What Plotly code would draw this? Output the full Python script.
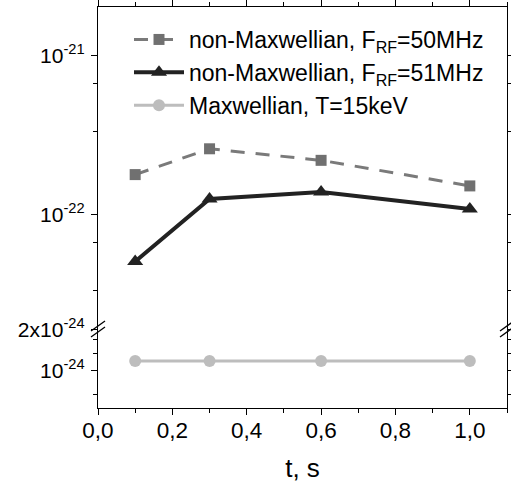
import numpy as np
import plotly.graph_objects as go

# ---- data ----
t = [0.1, 0.3, 0.6, 1.0]
nonmax_50 = [1.79e-22, 2.6e-22, 2.2e-22, 1.52e-22]
nonmax_51 = [5.1e-23, 1.26e-22, 1.39e-22, 1.09e-22]
maxw_15 = [1.17e-24, 1.17e-24, 1.17e-24, 1.17e-24]

x_ticks = [0.0, 0.2, 0.4, 0.6, 0.8, 1.0]
x_ticktext = ["0,0", "0,2", "0,4", "0,6", "0,8", "1,0"]
up_ticks = [1e-22, 1e-21]
up_ticktext = ["10<sup>-22</sup>", "10<sup>-21</sup>"]
up_minor = [3.33e-23, 6.67e-23, 3.33e-22, 6.67e-22]
lo_ticks = [1e-24, 2e-24]
lo_ticktext = ["10<sup>-24</sup>", "2x10<sup>-24</sup>"]
lo_minor = [6.67e-25, 1.33e-24, 1.67e-24]

names = ["non-Maxwellian, F<sub>RF</sub>=50MHz",
         "non-Maxwellian, F<sub>RF</sub>=51MHz",
         "Maxwellian, T=15keV"]

W, H = 511, 485
L, R, T, B = 98, 4, 7, 77
PW, PH = W - L - R, H - T - B
brk_px = 329  # pixel y of the axis break
d = (H - B - brk_px) / PH

FONT = "Liberation Sans, Arial, sans-serif"

fig = go.Figure()
fig.add_trace(go.Scatter(x=t, y=nonmax_50, name=names[0], xaxis="x2", yaxis="y2",
                         mode="lines+markers",
                         line=dict(color="#7a7a7a", width=3, dash="14px,11px"),
                         marker=dict(symbol="square", size=11, color="#707070")))
fig.add_trace(go.Scatter(x=t, y=nonmax_51, name=names[1], xaxis="x2", yaxis="y2",
                         mode="lines+markers",
                         line=dict(color="#222222", width=4),
                         marker=dict(symbol="triangle-up", size=14, color="#222222")))
fig.add_trace(go.Scatter(x=t, y=maxw_15, name=names[2], xaxis="x", yaxis="y",
                         mode="lines+markers",
                         line=dict(color="#bdbdbd", width=3),
                         marker=dict(symbol="circle", size=12, color="#bdbdbd")))

axis_common = dict(showline=True, linecolor="black", linewidth=1.3, showgrid=False,
                   zeroline=False, tickcolor="black", tickwidth=1.3, automargin=False)
yfont = dict(family=FONT, size=21, color="black")
xfont = dict(family=FONT, size=22.5, color="black")

fig.update_layout(
    width=W, height=H,
    margin=dict(l=L, r=R, t=T, b=B, autoexpand=False),
    paper_bgcolor="white", plot_bgcolor="white",
    font=dict(family=FONT, color="black"),
    xaxis=dict(domain=[0, 1], anchor="y", range=[0, 1.1], side="bottom",
               tickmode="array", tickvals=x_ticks, ticktext=x_ticktext,
               ticks="outside", ticklen=6, mirror=False, tickfont=xfont,
               ticklabelstandoff=-4,
               minor=dict(dtick=0.1, tick0=0, ticks="outside", ticklen=3.5,
                          tickcolor="black", tickwidth=1.3),
               title=dict(text="t, s", font=dict(family=FONT, size=26, color="black"),
                          standoff=16),
               **axis_common),
    xaxis2=dict(domain=[0, 1], anchor="y2", matches="x", range=[0, 1.1], side="top",
                tickmode="array", tickvals=x_ticks, showticklabels=False,
                ticks="outside", ticklen=6,
                minor=dict(dtick=0.1, tick0=0, ticks="outside", ticklen=3.5,
                           tickcolor="black", tickwidth=1.3),
                **axis_common),
    yaxis=dict(domain=[0, d], anchor="x", type="log",
               range=[np.log10(5.27e-25), np.log10(2e-24) + 0.002],
               tickmode="array", tickvals=lo_ticks, ticktext=lo_ticktext,
               ticks="outside", ticklen=6, mirror="ticks", tickfont=yfont,
               ticklabelstandoff=2,
               minor=dict(tickmode="array", tickvals=lo_minor, ticks="outside",
                          ticklen=3.5, tickcolor="black", tickwidth=1.3),
               **axis_common),
    yaxis2=dict(domain=[d, 1], anchor="x2", type="log",
                range=[np.log10(1.92e-23), np.log10(2.02e-21)],
                tickmode="array", tickvals=up_ticks, ticktext=up_ticktext,
                ticks="outside", ticklen=6, mirror="ticks", tickfont=yfont,
                ticklabelstandoff=2,
                minor=dict(tickmode="array", tickvals=up_minor, ticks="outside",
                           ticklen=3.5, tickcolor="black", tickwidth=1.3),
                **axis_common),
    legend=dict(x=(129 - L) / PW, y=1 - (18 - T) / PH, xanchor="left", yanchor="top",
                bgcolor="rgba(0,0,0,0)", borderwidth=0,
                font=dict(family=FONT, size=23, color="black"),
                itemwidth=50, tracegroupgap=0),
    showlegend=True,
)

# axis break marks on left and right axes
shapes = []
for xpx in (0, PW):
    for off in (-3, 3):
        x0 = (xpx - 7) / PW
        x1 = (xpx + 7) / PW
        yc = d + off / PH
        shapes.append(dict(type="line", xref="paper", yref="paper",
                           x0=x0, y0=yc - 5 / PH, x1=x1, y1=yc + 5 / PH,
                           line=dict(color="black", width=1.3), layer="above"))
fig.update_layout(shapes=shapes)

fig.write_html("out.html", config={"displayModeBar": False},
               post_script="document.body.style.margin='0';")
